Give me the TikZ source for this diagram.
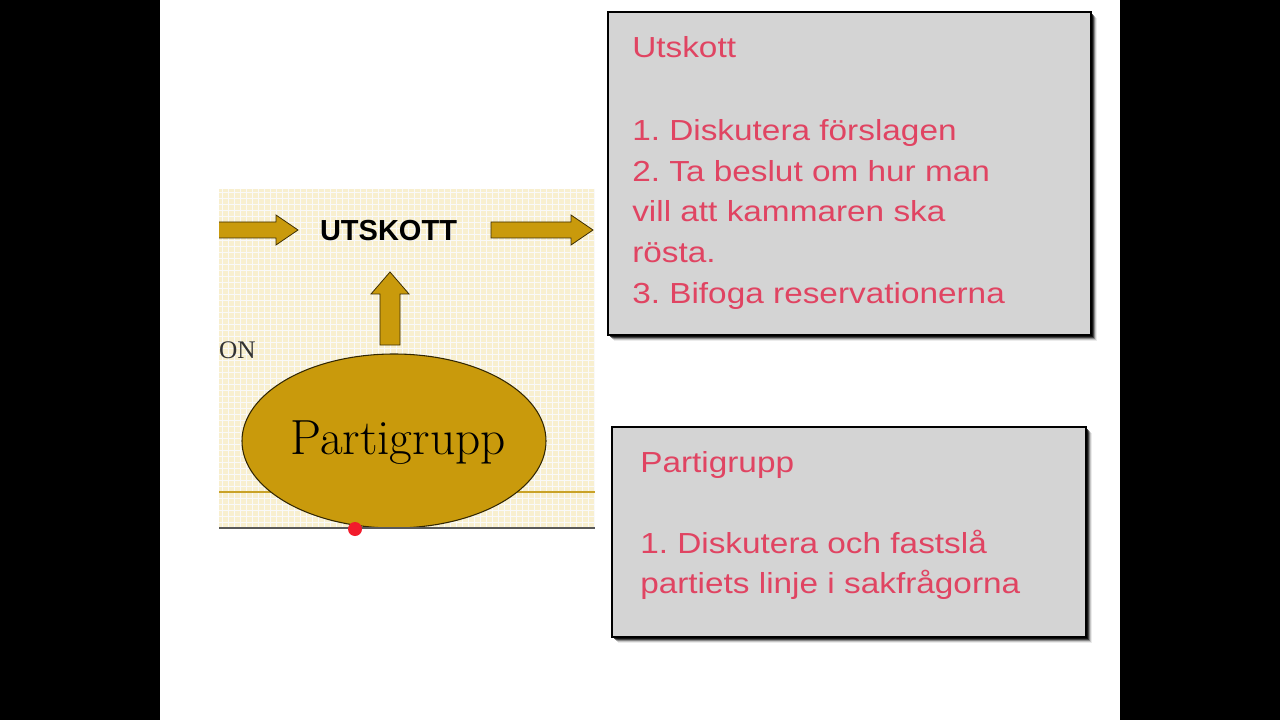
\documentclass[tikz,border=0pt]{standalone}
\usepackage{fontspec}
\setmainfont{Latin Modern Roman}
\newfontfamily\boxfont[FakeStretch=1.15]{Liberation Sans}
\newfontfamily\headfont{Liberation Sans}
\newfontfamily\serifg{Liberation Serif}
\usetikzlibrary{shapes.geometric}
\definecolor{cream}{HTML}{F8EFCF}
\definecolor{gold}{HTML}{C99A0C}
\definecolor{goldline}{HTML}{C9A227}
\definecolor{boxgray}{HTML}{D4D4D4}
\definecolor{pinkred}{HTML}{E04462}
\definecolor{dotred}{HTML}{F21C2C}
\tikzset{
  notebox/.style={draw=black, line width=1.5pt, fill=boxgray},
  boxline/.style={anchor=base west, inner sep=0pt, text=pinkred, font=\boxfont\fontsize{21.75}{26}\selectfont},
  goldarrow/.style={fill=gold, draw=black!70!gold, line width=0.6pt},
}
\frenchspacing
\begin{document}
\frenchspacing
\begin{tikzpicture}[x=0.75pt,y=-0.75pt]
\useasboundingbox (0,0) rectangle (1280,720);
% background
\fill[black] (0,0) rectangle (1280,720);
\fill[white] (160,0) rectangle (1120,720);
% image panel
\begin{scope}
\clip (219,189) rectangle (595,528);
\fill[cream] (219,189) rectangle (595,528);
\foreach \gx in {222,228,...,595} \draw[black!2.5, line width=0.3pt] (\gx,189) -- (\gx,528);
\foreach \gy in {192,198,...,528} \draw[black!2.5, line width=0.3pt] (219,\gy) -- (595,\gy);
\draw[goldline, line width=1.6pt] (219,492) -- (595,492);
\node[anchor=base east, inner sep=0pt, font=\serifg\fontsize{19}{21}\selectfont, text=black!80] (on) at (256,358) {ON};
% left arrow
\draw[goldarrow] (210,222) -- (276,222) -- (276,215) -- (298,230) -- (276,245) -- (276,238) -- (210,238) -- cycle;
% right arrow
\draw[goldarrow] (491,222) -- (571,222) -- (571,215) -- (593,230) -- (571,245) -- (571,238) -- (491,238) -- cycle;
% up arrow
\draw[goldarrow] (380,345) -- (380,294) -- (371,294) -- (390,272) -- (409,294) -- (400,294) -- (400,345) -- cycle;
\node[ellipse, fill=gold, draw=black!75!gold, line width=0.8pt, inner sep=0pt,
      minimum width=228pt, minimum height=130.5pt] (pg) at (394,441) {};
\end{scope}
\node[anchor=base, inner sep=0pt, font=\fontsize{37}{40}\selectfont] (pgtext) at (398,454) {Partigrupp};
\node[inner sep=0pt, font=\headfont\bfseries\fontsize{21.75}{24}\selectfont] (utsk) at (388.5,231) {UTSKOTT};
\draw[black!65, line width=1.5pt] (219,528) -- (595,528);
\fill[dotred] (355,529) circle[radius=7];
% shadows
\foreach \s/\o in {6/0.08,5/0.15,4/0.3,3/0.5,2/0.7} {
  \fill[black, opacity=\o] (608+\s,12+\s) rectangle (1091+\s,335+\s);
  \fill[black, opacity=\o] (612+\s,427+\s) rectangle (1086+\s,637+\s);
}
% box 1
\draw[notebox] (608,12) rectangle (1091,335);
\node[boxline] (b1a) at (632,58) {Utskott};
\node[boxline] (b1b) at (632,141) {1. Diskutera förslagen};
\node[boxline] (b1c) at (632,181.5) {2. Ta beslut om hur man};
\node[boxline] (b1d) at (632,222) {vill att kammaren ska};
\node[boxline] (b1e) at (632,262.5) {rösta.};
\node[boxline] (b1f) at (632,303) {3. Bifoga reservationerna};
% box 2
\draw[notebox] (612,427) rectangle (1086,637);
\node[boxline] (b2a) at (640,472) {Partigrupp};
\node[boxline] (b2b) at (640,553) {1. Diskutera och fastslå};
\node[boxline] (b2c) at (640,593.5) {partiets linje i sakfrågorna};
\end{tikzpicture}
\end{document}
